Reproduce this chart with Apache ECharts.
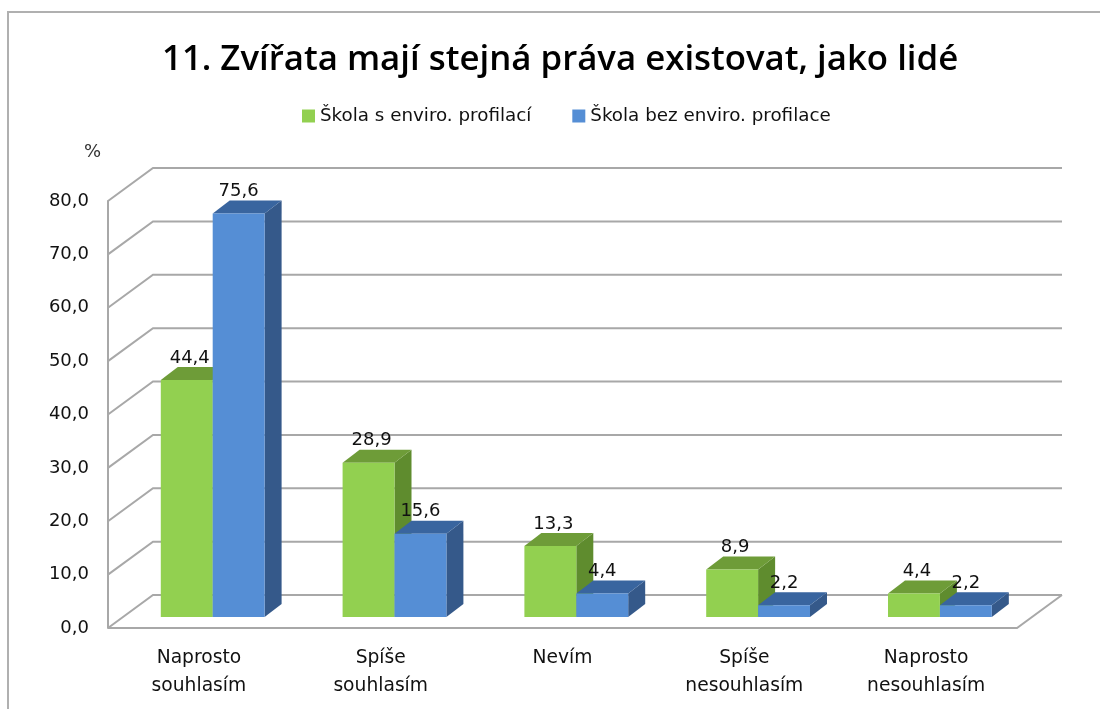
<!DOCTYPE html>
<html><head><meta charset="utf-8">
<style>html,body{margin:0;padding:0;background:#fff;overflow:hidden}#c{width:1100px;height:709px}</style>
<script src="https://cdn.jsdelivr.net/npm/echarts@6/dist/echarts.min.js"></script>
</head><body><div id="c"></div>
<script>
const categories = ['Naprosto\nsouhlasím','Spíše\nsouhlasím','Nevím','Spíše\nnesouhlasím','Naprosto\nnesouhlasím'];
const seriesGreen = [44.4, 28.9, 13.3, 8.9, 4.4];
const seriesBlue = [75.6, 15.6, 4.4, 2.2, 2.2];
const yTicks = [0,10,20,30,40,50,60,70,80];
const nameGreen = 'Škola s enviro. profilací';
const nameBlue = 'Škola bez enviro. profilace';
const titleText = '11. Zvířata mají stejná práva existovat, jako lidé';

const FONT = '"DejaVu Sans"';
const GRID = '#a8a8a8';
const comma = v => v.toFixed(1).replace('.', ',');
const chart = echarts.init(document.getElementById('c'), null, {renderer:'canvas'});

function wallItem(params, api){
  const v = api.value(1);
  const band = api.size([1,0])[0];
  const p = api.coord([0, v]);
  const x0 = p[0]-band/2, y0 = p[1];
  const bx = x0+45, by = y0-33;
  const children = [];
  const ls = {stroke:GRID, lineWidth:2, fill:null};
  const xr = x0+band*categories.length;
  children.push({type:'polyline', shape:{points: [[x0,y0],[bx,by],[xr+45,by]]}, style:ls});
  if (v===0) children.push({type:'polyline', shape:{points:[[x0,y0],[xr,y0],[xr+45,by]]}, style:ls});
  return {type:'group', children};
}
function barRender(side, front, top, dark){
  return function(params, api){
    const c = api.value(0), v = api.value(1);
    const band = api.size([1,0])[0];
    const w = band*0.2855, dx=17, dy=13;
    const cx = api.coord([c,0])[0]+13.8;
    const x0 = side<0 ? cx-w : cx, x1 = x0+w;
    const yb = api.coord([c,0])[1]-11, yt = api.coord([c,v])[1]-11;
    return {type:'group', children:[
      {type:'polygon', shape:{points:[[x1,yt],[x1+dx,yt-dy],[x1+dx,yb-dy],[x1,yb]]}, style:{fill:dark}},
      {type:'polygon', shape:{points:[[x0,yt],[x0+dx,yt-dy],[x1+dx,yt-dy],[x1,yt]]}, style:{fill:top}},
      {type:'rect', shape:{x:x0,y:yt,width:w,height:yb-yt}, style:{fill:front}},
      {type:'text', x:(x0+x1)/2+(side<0?3:0), y:yt-22, style:{text:comma(v), fill:'#111', font:'18px '+FONT, align:'center', verticalAlign:'middle'}, z2:100}
    ]};
  };
}
chart.setOption({
  animation:false,
  backgroundColor:'#fff',
  graphic:[
    {type:'line', silent:true, z:-1, shape:{x1:8,y1:11,x2:8,y2:709}, style:{stroke:'#b0b0b0', lineWidth:2}},
    {type:'line', silent:true, z:-1, shape:{x1:7,y1:12,x2:1100,y2:12}, style:{stroke:'#b0b0b0', lineWidth:2}}
  ],
  title:{text:titleText, left:157, top:38, textStyle:{fontFamily:'"Open Sans"', fontSize:34.8, fontWeight:600, color:'#000'}},
  legend:{top:102, left:297, itemWidth:13, itemHeight:13, itemGap:41, textStyle:{fontFamily:FONT, fontSize:18.3, color:'#111'},
    data:[{name:nameGreen, icon:'rect', itemStyle:{color:'#92D050'}},{name:nameBlue, icon:'rect', itemStyle:{color:'#558ED5'}}]},
  grid:{left:108, right:83, top:201, height:427, containLabel:false},
  xAxis:{type:'category', data:categories, axisLine:{show:false}, axisTick:{show:false}, splitLine:{show:false},
    axisLabel:{interval:0, fontFamily:FONT, fontSize:18.7, color:'#111', lineHeight:28, margin:16}},
  yAxis:{type:'value', min:0, max:80, interval:10, name:'%', nameLocation:'end', nameGap:40,
    nameTextStyle:{fontFamily:FONT, fontSize:18, color:'#333', align:'right', padding:[0,7,0,0]},
    axisLine:{show:true, lineStyle:{color:GRID, width:2}}, axisTick:{show:false}, splitLine:{show:false},
    axisLabel:{formatter:comma, fontFamily:FONT, fontSize:18, color:'#111', margin:19, padding:[0,0,4,0]}},
  series:[
    {type:'custom', name:'walls', silent:true, z:1, clip:false, encode:{x:0,y:1}, renderItem:wallItem, data:yTicks.map(t=>[0,t])},
    {type:'custom', name:nameGreen, z:2, clip:false, encode:{x:0,y:1}, itemStyle:{color:'#92D050'}, renderItem:barRender(-1,'#92D050','#6E9C38','#5F8C2E'), data:seriesGreen.map((v,i)=>[i,v])},
    {type:'custom', name:nameBlue, z:3, clip:false, encode:{x:0,y:1}, itemStyle:{color:'#558ED5'}, renderItem:barRender(1,'#558ED5','#39659F','#35598A'), data:seriesBlue.map((v,i)=>[i,v])}
  ]
});
</script></body></html>
